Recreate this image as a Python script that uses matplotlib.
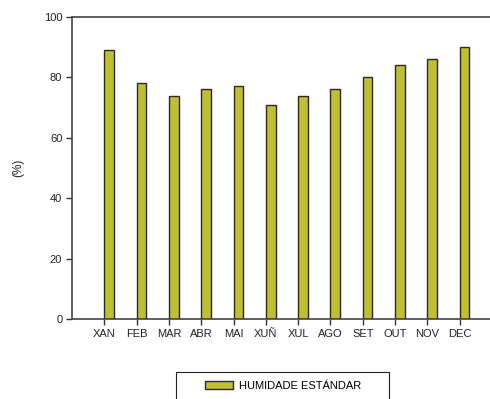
import numpy as np
import matplotlib.pyplot as plt
from matplotlib.patches import Rectangle

meses = ['XAN', 'FEB', 'MAR', 'ABR', 'MAI', 'XUÑ', 'XUL', 'AGO', 'SET', 'OUT', 'NOV', 'DEC']
humidade = [89, 78, 74, 76, 77, 71, 74, 76, 80, 84, 86, 90]
etiqueta = 'HUMIDADE ESTÁNDAR'

plt.rcParams['font.family'] = ['Liberation Sans', 'DejaVu Sans']
plt.rcParams['font.size'] = 8

fig = plt.figure(figsize=(4.9, 3.99), dpi=100)
ax = fig.add_axes([72/490, 1 - 319/399, 420/490, 302/399])

x = np.arange(len(meses))
ax.bar(x, humidade, width=0.3, align='edge', color='#bfbf35',
       edgecolor='#2a2a2a', linewidth=1.0, label=etiqueta)

ax.set_xlim(-1, 12)
ax.set_ylim(0, 100)
ax.set_xticks(x)
ax.set_xticklabels(meses, color='#222222')
ax.set_yticks(np.arange(0, 101, 20))
ax.tick_params(direction='out', length=4, width=1, color='#333333', labelcolor='#222222', pad=3)
ax.set_ylabel('(%)', color='#222222', labelpad=14, fontsize=8.5)

for s in ['left', 'bottom', 'top']:
    ax.spines[s].set_color('#444444')
    ax.spines[s].set_linewidth(1.2)
ax.spines['right'].set_visible(False)

# caixa da lenda
fig.patches.append(Rectangle((176/490, -0.02), 213/490, 1 - 372/399 + 0.02,
                             transform=fig.transFigure, fill=False,
                             edgecolor='#222222', linewidth=0.8))
fig.legend(loc='center left', bbox_to_anchor=(195/490, 1 - 386/399),
           frameon=False, handlelength=2.5, handleheight=0.8, handletextpad=0.6,
           fontsize=8)

plt.savefig('out.png', dpi=100)
